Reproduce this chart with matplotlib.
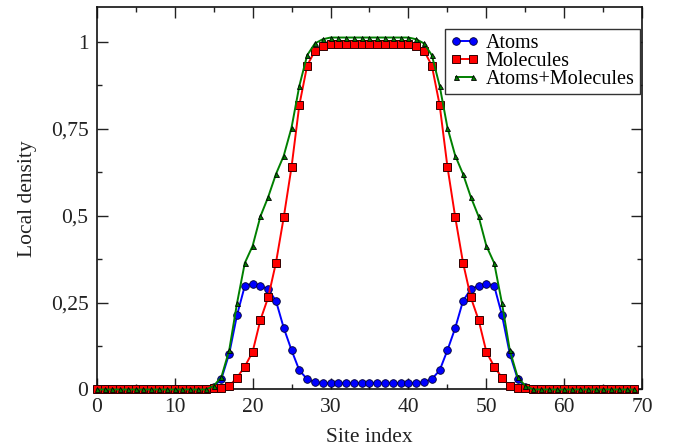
import matplotlib
matplotlib.use("Agg")
import matplotlib.pyplot as plt
from matplotlib.ticker import MultipleLocator, FuncFormatter

sites = list(range(70))

atoms = [0.0] * 15 + [
    0.007, 0.031, 0.103, 0.214, 0.298, 0.305, 0.298, 0.289, 0.255, 0.177,
    0.113, 0.055, 0.030, 0.021, 0.019, 0.019, 0.019, 0.019, 0.019, 0.019,
    0.019, 0.019, 0.019, 0.019, 0.019, 0.019, 0.019, 0.021, 0.030, 0.055,
    0.113, 0.177, 0.255, 0.289, 0.298, 0.305, 0.298, 0.214, 0.103, 0.031,
    0.007] + [0.0] * 14

molecules = [0.0] * 15 + [
    0.003, 0.005, 0.010, 0.034, 0.066, 0.108, 0.200, 0.265, 0.365, 0.496,
    0.641, 0.819, 0.932, 0.975, 0.989, 0.994, 0.994, 0.994, 0.994, 0.994,
    0.994, 0.994, 0.994, 0.994, 0.994, 0.994, 0.989, 0.975, 0.932, 0.819,
    0.641, 0.496, 0.365, 0.265, 0.200, 0.108, 0.066, 0.034, 0.010, 0.005,
    0.003] + [0.0] * 14

total = [0.0] * 15 + [
    0.010, 0.036, 0.113, 0.248, 0.364, 0.413, 0.498, 0.554, 0.620, 0.673,
    0.754, 0.874, 0.962, 0.996, 1.008, 1.013, 1.013, 1.013, 1.013, 1.013,
    1.013, 1.013, 1.013, 1.013, 1.013, 1.013, 1.008, 0.996, 0.962, 0.874,
    0.754, 0.673, 0.620, 0.554, 0.498, 0.413, 0.364, 0.248, 0.113, 0.036,
    0.010] + [0.0] * 14

labels = ["Atoms", "Molecules", "Atoms+Molecules"]

plt.rcParams['font.family'] = ['Liberation Serif', 'DejaVu Serif']
plt.rcParams['mathtext.fontset'] = 'stix'

fig = plt.figure(figsize=(6.84, 4.48), dpi=100)
ax = fig.add_axes([0.1414, 0.1306, 0.939 - 0.1414, 0.9837 - 0.1306])

ax.plot(sites, atoms, '-o', color='#0000ff', lw=1.4, ms=5.5,
        mfc='#0000ff', mec='#000033', mew=0.6, label=labels[0], clip_on=False, zorder=3)
ax.plot(sites, molecules, '-s', color='#ff0000', lw=1.4, ms=5.2,
        mfc='#ff0000', mec='#330000', mew=0.7, label=labels[1], clip_on=False, zorder=4)
ax.plot(sites, total, '-^', color='#008000', lw=1.4, ms=3.6,
        mfc='#008000', mec='black', mew=0.6, label=labels[2], clip_on=False, zorder=5)

ax.set_xlim(0, 70)
ax.set_ylim(0, 1.1)
ax.xaxis.set_major_locator(MultipleLocator(10))
ax.xaxis.set_minor_locator(MultipleLocator(5))
ax.set_yticks([0, 0.25, 0.5, 0.75, 1.0])
ax.yaxis.set_minor_locator(MultipleLocator(0.125))
ax.yaxis.set_major_formatter(FuncFormatter(lambda v, p: ('%g' % v).replace('.', ',')))

ax.tick_params(which='both', direction='in', top=True, right=True,
               labelsize=15.5, pad=6, width=1.0, colors='#222222')
ax.tick_params(which='major', length=7.7)
ax.tick_params(which='minor', length=3.6)
for s in ax.spines.values():
    s.set_linewidth(1.2)
    s.set_color('#111111')

ax.set_xlabel("Site index", fontsize=15.5, labelpad=8, color='#222222')
ax.set_ylabel("Local density", fontsize=15.5, labelpad=10, color='#222222')

leg = ax.legend(loc='upper right', bbox_to_anchor=(0.995, 0.944), borderaxespad=0,
                fontsize=14.5, numpoints=2, handlelength=1.4, handletextpad=0.35,
                labelspacing=-0.05, borderpad=0.25, fancybox=False, framealpha=1,
                edgecolor='#333333')
leg.get_frame().set_linewidth(1.0)
leg.set_zorder(10)

fig.savefig("out.png", dpi=100)
